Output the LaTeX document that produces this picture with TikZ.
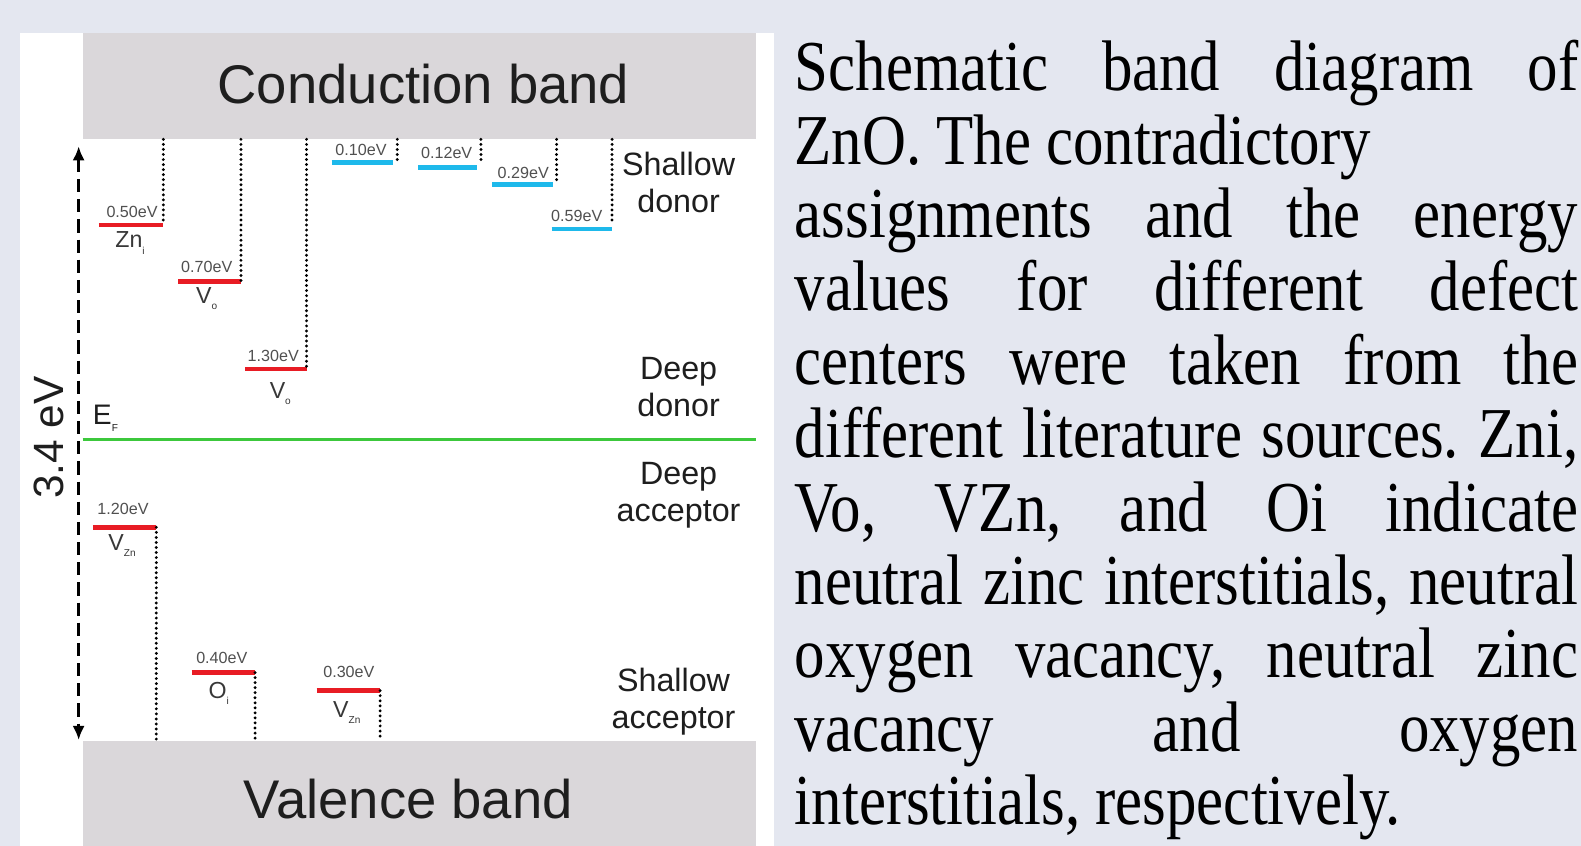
\documentclass[tikz,border=0pt]{standalone}
\usepackage{fontspec}
\setmainfont{Liberation Sans}
\newfontfamily\capfont[FakeStretch=0.85]{Liberation Serif}
\usetikzlibrary{arrows.meta}

\definecolor{bgblue}{RGB}{228,231,240}
\definecolor{bandgray}{RGB}{218,215,218}
\definecolor{lvred}{RGB}{232,28,36}
\definecolor{lvblue}{RGB}{30,185,235}
\definecolor{efgreen}{RGB}{60,200,60}
\definecolor{labgray}{RGB}{80,80,80}
\definecolor{txtdark}{RGB}{30,30,30}

\newcommand\dsub[1]{\raisebox{-.5ex}{\fontsize{10}{10}\selectfont #1}}
\newcommand\jline[1]{\makebox[777pt][s]{#1}}

\tikzset{
  band/.style={fill=bandgray, minimum width=668pt, inner sep=0pt},
  bandtext/.style={text=txtdark, font=\fontsize{54}{60}\selectfont},
  redlevel/.style={draw=lvred, line width=4.5pt},
  bluelevel/.style={draw=lvblue, line width=4.5pt},
  dotline/.style={line width=3.2pt, dash pattern=on 0pt off 5pt, line cap=round},
  evlab/.style={anchor=base, inner sep=0pt, text=labgray, font=\fontsize{16}{18}\selectfont},
  deflab/.style={inner sep=0pt, text=labgray!70!black, font=\fontsize{23}{25}\selectfont},
  region/.style={align=center, text=txtdark, font=\fontsize{32}{37}\selectfont},
  capline/.style={anchor=base west, inner sep=0pt, font=\capfont\fontsize{71}{73}\selectfont\frenchspacing}
}

\begin{document}
\begin{tikzpicture}[x=1pt,y=-1pt]
\useasboundingbox (0,0) rectangle (1568,839);
\fill[bgblue] (0,0) rectangle (1568,839);
\fill[white] (20,33) rectangle (768,839);

% bands
\node[band, minimum height=105pt] (cb) at (416,85.5) {};
\node[band, minimum height=104pt] (vb) at (416,787) {};
\node[bandtext] (cbtext) at (420,83) {Conduction band};
\node[bandtext] (vbtext) at (405,792) {Valence band};

% band gap arrow and Fermi level
\coordinate (gaptop) at (78,145);
\coordinate (gapbot) at (78,734);
\draw[line width=3pt, dash pattern=on 13pt off 7pt, {Latex[length=14pt,width=12pt]}-{Latex[length=14pt,width=12pt]}] (gaptop) -- (gapbot);
\node[rotate=90, text=txtdark, font=\fontsize{42}{44}\selectfont] (gap) at (49,434) {3.4 eV};
\coordinate (efl) at (82,436);
\coordinate (efr) at (750,436);
\draw[draw=efgreen, line width=3.2pt] (efl) -- (efr);
\node[anchor=base west, inner sep=0pt, text=txtdark, font=\fontsize{28}{30}\selectfont] (ef) at (92,421) {E\dsub{F}};

% donor levels
\foreach \n/\xa/\xb/\y/\ev/\evx/\evy/\dlab/\dx/\dy in {zni/98/162/223/0.50/131/216/{Zn\dsub{i}}/129/241,
    vo/177/239/279/0.70/205/270/{V\dsub{o}}/205/296,
    vod/243/304/366/1.30/271/359/{V\dsub{o}}/278/390}
{
    \coordinate (\n-l) at (\xa,\y);
    \coordinate (\n-r) at (\xb,\y);
    \draw[redlevel] (\n-l) -- (\n-r);
    \draw[dotline] (\n-r |- cb.south) -- (\n-r);
    \node[evlab] (\n-ev) at (\evx,\evy) {\ev eV};
    \node[deflab] (\n-def) at (\dx,\dy) {\dlab};
}
\foreach \n/\xa/\xb/\y/\xd/\yd/\ev/\evx/\evy in {d10/329/390/161/394/161/0.10/358/154,
    d12/415/473/166/477/161/0.12/443/157,
    d29/488/548/183/552/182/0.29/519/177,
    d59/547/607/227/607/220/0.59/572/220}
{
    \coordinate (\n-l) at (\xa,\y);
    \coordinate (\n-r) at (\xb,\y);
    \coordinate (\n-d) at (\xd,\yd);
    \draw[bluelevel] (\n-l) -- (\n-r);
    \draw[dotline] (\n-d |- cb.south) -- (\n-d);
    \node[evlab] (\n-ev) at (\evx,\evy) {\ev eV};
}

% acceptor levels
\foreach \n/\xa/\xb/\y/\ev/\evx/\evy/\dlab/\dx/\dy in {vzn/92/155/523/1.20/122/510/{V\dsub{Zn}}/121/541,
    oi/190/253/667/0.40/220/658/{O\dsub{i}}/217/688,
    vzs/314/377/685/0.30/346/672/{V\dsub{Zn}}/344/707}
{
    \coordinate (\n-l) at (\xa,\y);
    \coordinate (\n-r) at (\xb,\y);
    \draw[redlevel] (\n-l) -- (\n-r);
    \draw[dotline] (\n-r) -- (\n-r |- vb.north);
    \node[evlab] (\n-ev) at (\evx,\evy) {\ev eV};
    \node[deflab] (\n-def) at (\dx,\dy) {\dlab};
}

% regions
\foreach \n/\x/\y/\txt in {sd/673/181/{Shallow\\donor}, dd/673/384/{Deep\\donor},
    da/673/491/{Deep\\acceptor}, sa/668/696/{Shallow\\acceptor}}
{
    \node[region] (\n) at (\x,\y) {\txt};
}

% caption
\foreach \n/\txt in {1/{\jline{Schematic band diagram of}},
    2/{ZnO. The contradictory},
    3/{\jline{assignments and the energy}},
    4/{\jline{values for different defect}},
    5/{\jline{centers were taken from the}},
    6/{\jline{different literature sources. Zni,}},
    7/{\jline{Vo, VZn, and Oi indicate}},
    8/{\jline{neutral zinc interstitials, neutral}},
    9/{\jline{oxygen vacancy, neutral zinc}},
    10/{\jline{vacancy and oxygen}},
    11/{interstitials, respectively.}}
{
    \node[capline] (cap\n) at (788,{90+72.8*(\n-1)}) {\txt};
}
\end{tikzpicture}
\end{document}
